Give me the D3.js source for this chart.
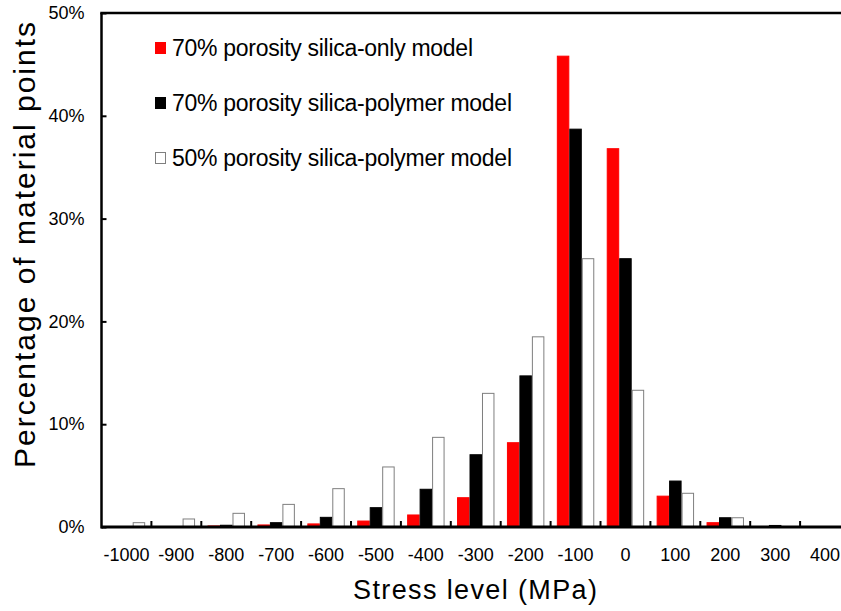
<!DOCTYPE html>
<html>
<head>
<meta charset="utf-8">
<script src="https://cdn.jsdelivr.net/npm/d3@7"></script>
<style>
  html, body { margin: 0; padding: 0; background: #fff; }
  svg { display: block; font-family: Arial, "Liberation Sans", sans-serif; }
</style>
</head>
<body>
<div id="chart"></div>
<script>
// stress bins (MPa)
var categories = ["-1000", "-900", "-800", "-700", "-600", "-500", "-400", "-300",
                  "-200", "-100", "0", "100", "200", "300", "400"];

var seriesNames = [
    "70% porosity silica-only model",
    "70% porosity silica-polymer model",
    "50% porosity silica-polymer model"
];

// percentage of material points per bin
var silicaOnly70    = [0, 0, 0.1, 0.2, 0.3, 0.58, 1.17, 2.85, 8.2, 45.8, 36.8, 3.0, 0.42, 0, 0];
var silicaPolymer70 = [0, 0, 0.17, 0.42, 0.94, 1.88, 3.67, 7.03, 14.7, 38.7, 26.1, 4.47, 0.9, 0.15, 0];
var silicaPolymer50 = [0.42, 0.78, 1.33, 2.2, 3.73, 5.84, 8.72, 13.0, 18.5, 26.1, 13.3, 3.28, 0.9, 0, 0];

var yTicks = [0, 10, 20, 30, 40, 50];

var width = 841, height = 611;
var plotLeft = 101.5, plotTop = 13, plotBottom = 527;
var catWidth = 49.9;

var series = [
    { name: seriesNames[0], values: silicaOnly70,    fill: "#ff0000", stroke: "#ff0000", len: 301 },
    { name: seriesNames[1], values: silicaPolymer70, fill: "#000000", stroke: "#000000", len: 340 },
    { name: seriesNames[2], values: silicaPolymer50, fill: "#ffffff", stroke: "#7f7f7f", len: 340 }
];

var svg = d3.select("#chart").append("svg")
    .attr("width", width)
    .attr("height", height);

var x = d3.scaleBand()
    .domain(categories)
    .range([plotLeft, plotLeft + catWidth * categories.length])
    .paddingInner(0).paddingOuter(0);

var xInner = d3.scaleBand()
    .domain(d3.range(series.length))
    .range([0, x.bandwidth()])
    .paddingInner(0)
    .paddingOuter(0.5);

var y = d3.scaleLinear()
    .domain([0, 50])
    .range([plotBottom, plotTop]);

// bars
var groups = svg.append("g").attr("class", "bars")
    .selectAll("g")
    .data(series)
    .enter().append("g");

groups.selectAll("rect")
    .data(function(s, i) {
        return s.values.map(function(v, j) { return { cat: categories[j], v: v, i: i, s: s }; });
    })
    .enter().append("rect")
        .filter(function(d) { return d.v > 0; })
        .attr("x", function(d) { return x(d.cat) + xInner(d.i) + 0.5; })
        .attr("y", function(d) { return y(d.v); })
        .attr("width", xInner.bandwidth() - 1)
        .attr("height", function(d) { return plotBottom - y(d.v); })
        .attr("fill", function(d) { return d.s.fill; })
        .attr("stroke", function(d) { return d.s.stroke; })
        .attr("stroke-width", 1);

// y axis
var yAxis = svg.append("g")
    .attr("transform", "translate(" + plotLeft + ",0)")
    .call(d3.axisLeft(y).tickValues(yTicks).tickSize(-5).tickPadding(17)
        .tickFormat(function(d) { return d + "%"; }));
yAxis.select(".domain").remove();
yAxis.selectAll(".tick line").attr("stroke", "#000").attr("stroke-width", 2);
yAxis.selectAll("text").attr("font-size", 18).attr("fill", "#000")
    .attr("font-family", "Arial, 'Liberation Sans', sans-serif");

// x axis labels
var xAxis = svg.append("g")
    .attr("transform", "translate(0," + plotBottom + ")")
    .call(d3.axisBottom(x).tickSize(0).tickPadding(21));
xAxis.select(".domain").remove();
xAxis.selectAll("text").attr("font-size", 18).attr("fill", "#000")
    .attr("font-family", "Arial, 'Liberation Sans', sans-serif");

// category boundary ticks
svg.append("g").selectAll("line")
    .data(categories)
    .enter().append("line")
        .attr("x1", function(d) { return x(d) + catWidth; })
        .attr("x2", function(d) { return x(d) + catWidth; })
        .attr("y1", plotBottom)
        .attr("y2", plotBottom - 6)
        .attr("stroke", "#000")
        .attr("stroke-width", 2);

// frame lines
svg.append("line")
    .attr("x1", plotLeft).attr("x2", plotLeft)
    .attr("y1", plotTop).attr("y2", plotBottom + 1.5)
    .attr("stroke", "#000").attr("stroke-width", 2.5);
svg.append("line")
    .attr("x1", plotLeft).attr("x2", width)
    .attr("y1", plotBottom).attr("y2", plotBottom)
    .attr("stroke", "#000").attr("stroke-width", 3);
svg.append("line")
    .attr("x1", plotLeft - 1.25).attr("x2", width)
    .attr("y1", plotTop).attr("y2", plotTop)
    .attr("stroke", "#000").attr("stroke-width", 2.5);

// axis titles
svg.append("text")
    .attr("x", 475).attr("y", 599)
    .attr("text-anchor", "middle")
    .attr("font-size", 27)
    .attr("textLength", 244)
    .attr("lengthAdjust", "spacing")
    .text("Stress level (MPa)");

svg.append("text")
    .attr("transform", "translate(35,245) rotate(-90)")
    .attr("text-anchor", "middle")
    .attr("font-size", 30)
    .attr("textLength", 446)
    .attr("lengthAdjust", "spacing")
    .text("Percentage of material points");

// legend
var legend = svg.append("g").attr("class", "legend")
    .selectAll("g")
    .data(series)
    .enter().append("g")
        .attr("transform", function(d, i) { return "translate(155," + (48 + i * 55) + ")"; });

legend.append("rect")
    .attr("x", 0.5).attr("y", -5.5)
    .attr("width", 10).attr("height", 11)
    .attr("fill", function(d) { return d.fill; })
    .attr("stroke", function(d) { return d.stroke; });

legend.append("text")
    .attr("x", 17).attr("y", 0)
    .attr("dy", "0.35em")
    .attr("font-size", 23)
    .attr("textLength", function(d) { return d.len; })
    .attr("lengthAdjust", "spacing")
    .text(function(d) { return d.name; });
</script>
</body>
</html>
